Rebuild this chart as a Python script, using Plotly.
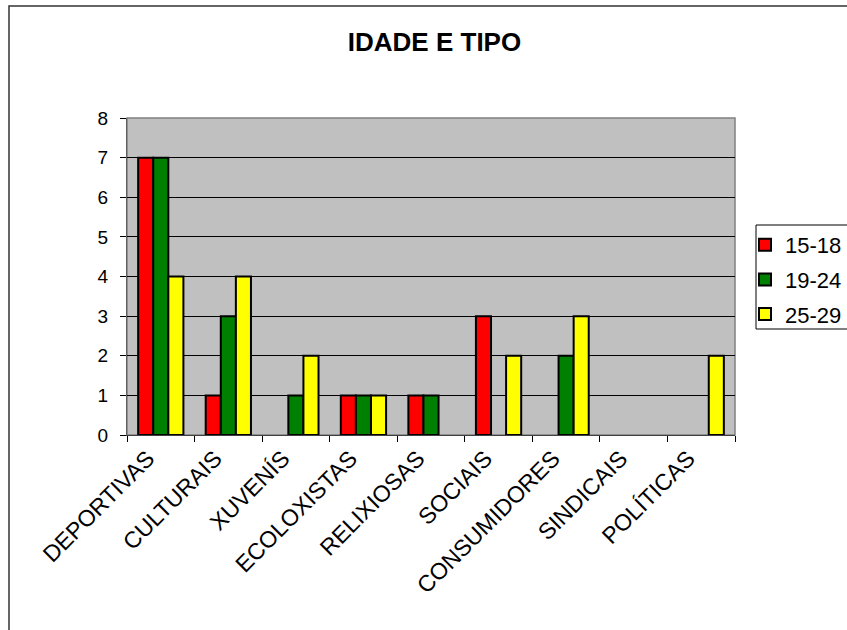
import plotly.graph_objects as go

categories = ["DEPORTIVAS", "CULTURAIS", "XUVENÍS", "ECOLOXISTAS", "RELIXIOSAS",
              "SOCIAIS", "CONSUMIDORES", "SINDICAIS", "POLÍTICAS"]
series_names = ["15-18", "19-24", "25-29"]
values_15_18 = [7, 1, 0, 1, 1, 3, 0, 0, 0]
values_19_24 = [7, 3, 1, 1, 1, 0, 2, 0, 0]
values_25_29 = [4, 4, 2, 1, 0, 2, 3, 0, 2]
colors = ["#FF0000", "#008000", "#FFFF00"]
y_ticks = [0, 1, 2, 3, 4, 5, 6, 7, 8]

FONT = "Liberation Sans, Arial, sans-serif"
W, H = 847, 630
L, R, T, B = 127, 735, 118, 435

fig = go.Figure()
for name, vals, col in zip(series_names, [values_15_18, values_19_24, values_25_29], colors):
    # zero-valued bars are not drawn in the reference
    fig.add_trace(go.Bar(
        x=categories, y=[v if v != 0 else None for v in vals], name=name, legendgroup=name,
        marker=dict(color=col, line=dict(color="#000000", width=2)),
    ))

pw, ph = R - L, B - T
def px2x(p):
    return (p - L) / pw
def py2y(p):
    return (B - p) / ph

fig.update_layout(
    width=W, height=H,
    margin=dict(l=L, r=W - R, t=T, b=H - B, autoexpand=False),
    paper_bgcolor="#FFFFFF",
    plot_bgcolor="#C0C0C0",
    barmode="group", bargap=0.33, bargroupgap=0,
    font=dict(family=FONT, color="#000000"),
    title=dict(text="<b>IDADE E TIPO</b>", x=434.5 / W, xanchor="center",
               y=1 - 41.5 / H, yanchor="middle",
               font=dict(family=FONT, size=26, color="#000000")),
    legend=dict(x=px2x(745), y=py2y(224), xanchor="left", yanchor="top",
                borderwidth=0, bgcolor="rgba(0,0,0,0)",
                font=dict(family=FONT, size=22), traceorder="grouped",
                tracegroupgap=3, itemwidth=30),
    showlegend=True,
    xaxis=dict(type="category", tickson="boundaries", ticks="outside", ticklen=6,
               tickcolor="#000000", tickangle=-45, showline=True, linecolor="#404040",
               linewidth=1, tickfont=dict(family=FONT, size=23), showgrid=False,
               ticklabelshift=-13, fixedrange=True),
    yaxis=dict(range=[0, 8], tickvals=y_ticks, ticks="outside", ticklen=6,
               tickcolor="#000000", showline=True, linecolor="#606060", linewidth=1,
               showgrid=True, gridcolor="#000000", gridwidth=1, zeroline=False,
               tickfont=dict(family=FONT, size=19), ticklabelstandoff=8,
               fixedrange=True),
    shapes=[
        dict(type="rect", xref="paper", yref="paper", x0=0, x1=1, y0=0, y1=1,
             line=dict(color="#808080", width=1.5), fillcolor="rgba(0,0,0,0)", layer="below"),
        dict(type="rect", xref="paper", yref="paper", x0=px2x(9), x1=px2x(W + 10),
             y0=py2y(H + 10), y1=py2y(6),
             line=dict(color="#333333", width=1.5), fillcolor="rgba(0,0,0,0)", layer="below"),
        # legend frame
        dict(type="rect", xref="paper", yref="paper", x0=px2x(756), x1=px2x(W + 10),
             y0=py2y(329), y1=py2y(225),
             line=dict(color="#000000", width=1), fillcolor="#FFFFFF", layer="below"),
    ],
)

fig.write_html("out.html", config={"displayModeBar": False},
               post_script="document.body.style.margin='0px';")
